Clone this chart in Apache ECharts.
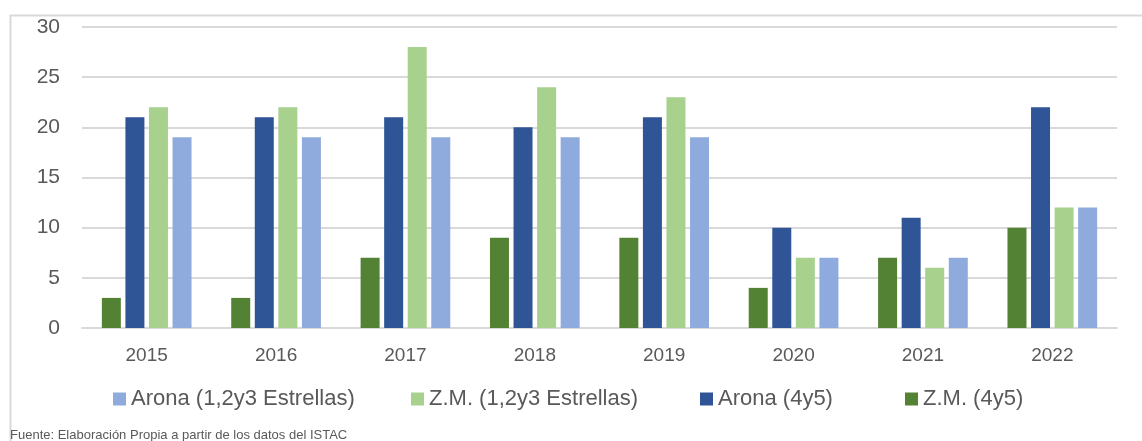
<!DOCTYPE html>
<html>
<head>
<meta charset="utf-8">
<script src="https://cdn.jsdelivr.net/npm/echarts@6/dist/echarts.min.js"></script>
<style>
    html, body { margin: 0; padding: 0; background: #fff; }
    #chart { width: 1142px; height: 441px; }
</style>
</head>
<body>
<div id="chart"></div>
<script>
    var years = ['2015', '2016', '2017', '2018', '2019', '2020', '2021', '2022'];
    var zm45 = [3, 3, 7, 9, 9, 4, 7, 10];
    var arona45 = [21, 21, 21, 20, 21, 10, 11, 22];
    var zm123 = [22, 22, 28, 24, 23, 7, 6, 12];
    var arona123 = [19, 19, 19, 19, 19, 7, 7, 12];
    var legendNames = ['Arona (1,2y3 Estrellas)', 'Z.M. (1,2y3 Estrellas)', 'Arona (4y5)', 'Z.M. (4y5)'];

    var font = '"Liberation Sans Narrow", "Arial Narrow", "Liberation Sans", sans-serif';
    var textColor = '#595959';

    function bar(name, data, color) {
        return {
            name: name,
            type: 'bar',
            data: data,
            barWidth: 19,
            barGap: '24%',
            itemStyle: { color: color }
        };
    }

    // one legend per entry, so each sits where the original has it
    var legendLefts = [108, 406, 695, 900];
    var legends = legendNames.map(function (name, i) {
        return {
            left: legendLefts[i],
            top: 383,
            itemWidth: 13,
            itemHeight: 13,
            icon: 'rect',
            textStyle: { fontSize: 22, color: textColor, fontFamily: font },
            data: [name]
        };
    });

    var chart = echarts.init(document.getElementById('chart'));
    chart.setOption({
        animation: false,
        textStyle: { fontFamily: font },
        graphic: [
            {
                type: 'rect',
                left: 8,
                top: 13,
                shape: { width: 1200, height: 500 },
                style: { fill: 'none', stroke: '#d9d9d9', lineWidth: 2 },
                z: -1
            },
            {
                type: 'text',
                left: 10,
                top: 429,
                style: {
                    text: 'Fuente: Elaboración Propia a partir de los datos del ISTAC',
                    fill: textColor,
                    font: '13px ' + font
                }
            }
        ],
        grid: { left: 82, right: 25, top: 27, bottom: 113 },
        legend: legends,
        xAxis: {
            type: 'category',
            data: years,
            axisTick: { show: false },
            axisLine: { lineStyle: { color: '#d9d9d9', width: 2 } },
            axisLabel: { color: textColor, fontSize: 19, margin: 18, fontFamily: font }
        },
        yAxis: {
            type: 'value',
            min: 0,
            max: 30,
            interval: 5,
            axisLabel: { color: textColor, fontSize: 21, margin: 22, fontFamily: font },
            splitLine: { lineStyle: { color: '#d9d9d9', width: 2 } }
        },
        series: [
            bar('Z.M. (4y5)', zm45, '#548235'),
            bar('Arona (4y5)', arona45, '#2f5597'),
            bar('Z.M. (1,2y3 Estrellas)', zm123, '#a9d18e'),
            bar('Arona (1,2y3 Estrellas)', arona123, '#8faadc')
        ]
    });
</script>
</body>
</html>
